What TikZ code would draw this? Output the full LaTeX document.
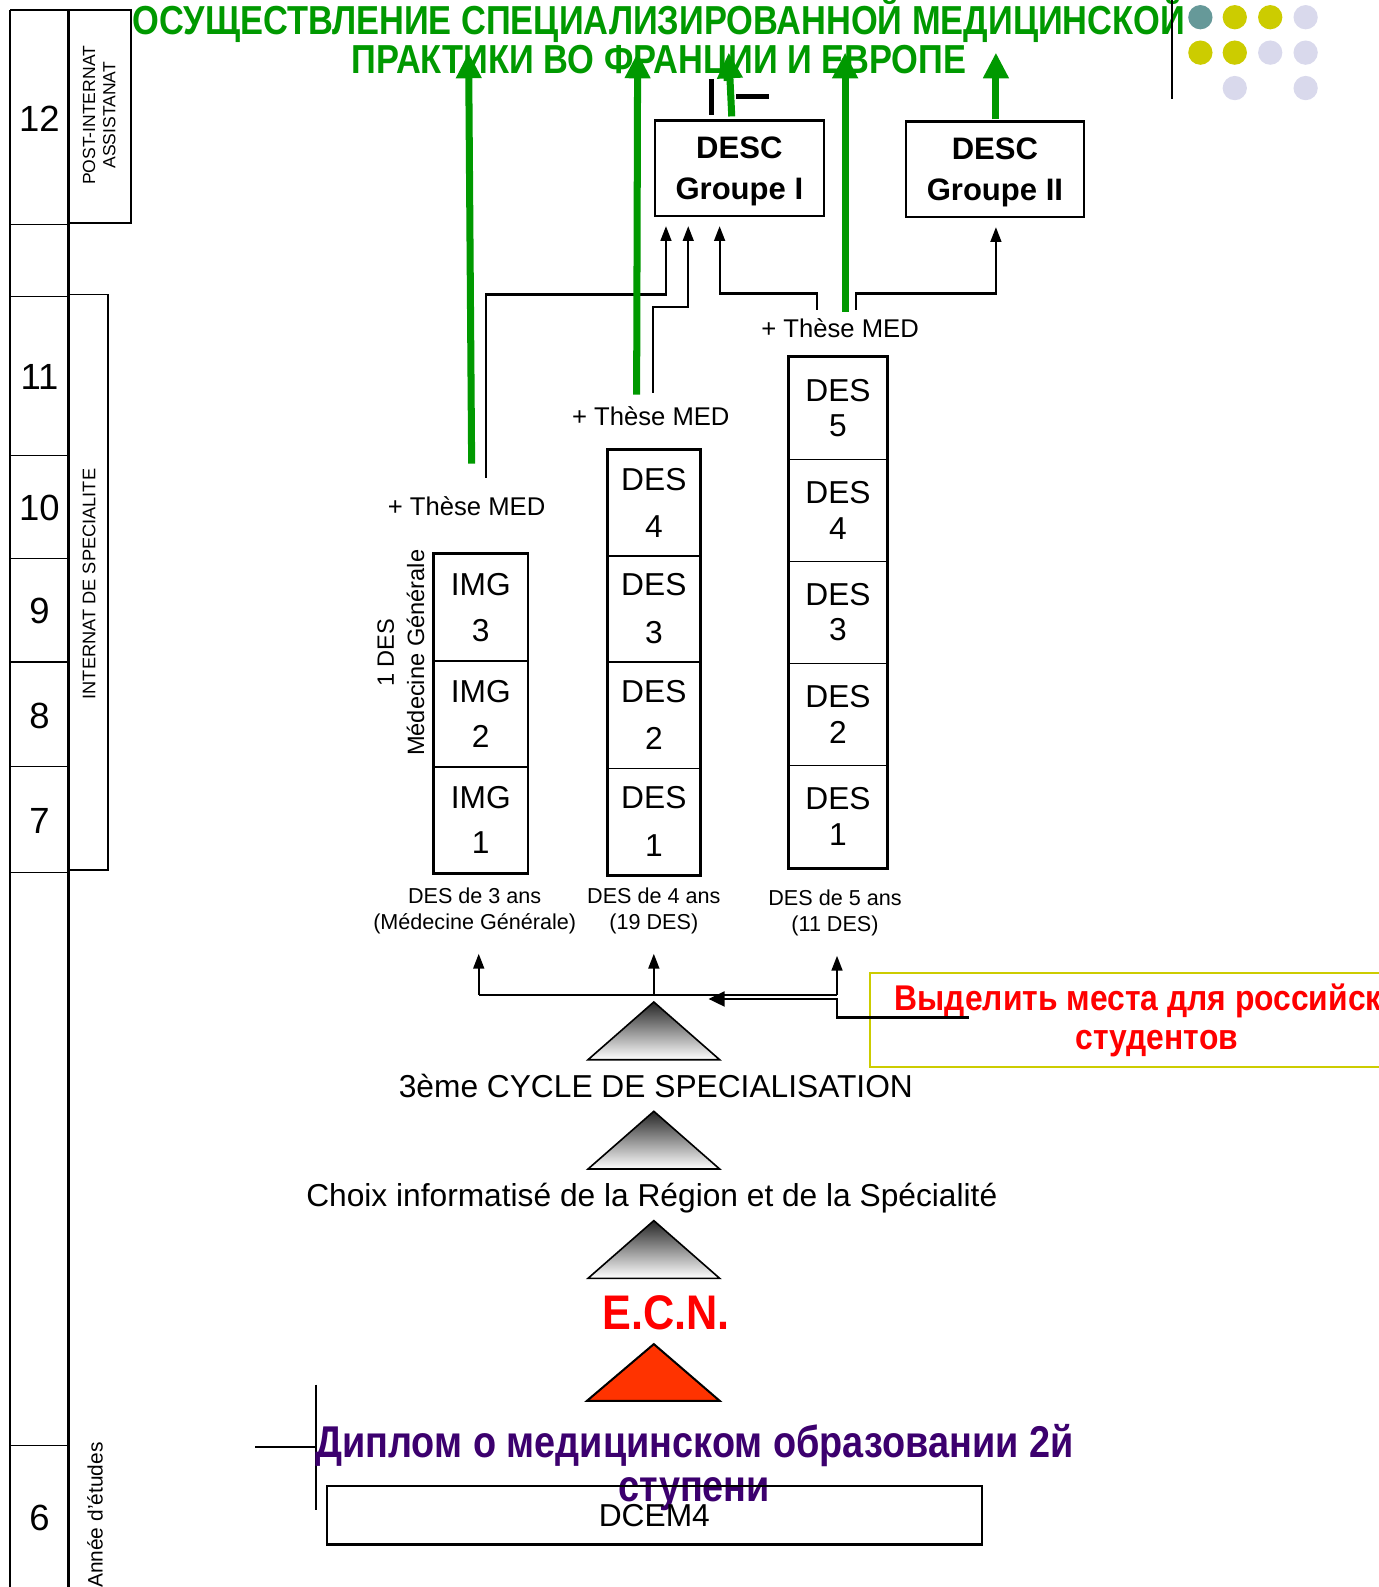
\documentclass[tikz,border=0pt]{standalone}
\usepackage{fontspec}
\setmainfont{Liberation Sans}
\newfontfamily\schmal[FakeStretch=0.85]{Liberation Sans}
\newfontfamily\halbschmal[FakeStretch=0.89]{Liberation Sans}
\usetikzlibrary{arrows.meta}

\definecolor{titelgruen}{RGB}{0,153,0}
\definecolor{ecnrot}{RGB}{255,0,0}
\definecolor{dreieckrot}{RGB}{255,51,0}
\definecolor{diplomlila}{RGB}{60,0,110}
\definecolor{rahmengelb}{RGB}{204,204,0}
\definecolor{punktteal}{RGB}{102,153,153}
\definecolor{punktgelb}{RGB}{204,204,0}
\definecolor{punktlila}{RGB}{217,217,236}

\tikzset{
	jahr/.style={font=\fontsize{27}{30}\selectfont},
	senkrecht/.style={rotate=90, align=center, font=\fontsize{13}{15}\selectfont},
	zelle/.style={draw, line width=1pt, align=center, inner sep=0pt},
	rahmen/.style={line width=2.2pt},
	these/.style={font=\fontsize{19}{22}\selectfont},
	dauer/.style={align=center, font=\fontsize{16}{19.5}\selectfont},
	descbox/.style={draw, line width=1.6pt, align=center, minimum height=70.5pt, text depth=0pt, font=\bfseries\fontsize{23}{30}\selectfont},
	stufe/.style={font=\fontsize{23.5}{28}\selectfont},
	pfeil/.style={line width=1.6pt, -{Triangle[width=8pt,length=11pt]}},
	gruenpfeil/.style={titelgruen, line width=5.2pt, -{Triangle[width=18pt,length=19pt]}},
	hinweispfeil/.style={line width=2pt, -{Triangle[width=11pt,length=12pt]}}
}

\begin{document}
\begin{tikzpicture}[x=0.75pt, y=-0.75pt]
	\useasboundingbox (0,0) rectangle (1362,1568);
	% Jahresspalte
	\draw[line width=1.5pt] (10,10) -- (10,1568);
	\draw[line width=2.2pt] (68,10) -- (68,1568);
	\draw[line width=2pt] (10,10) -- (68,10);
	\foreach \y in {222,293,450,552,654,757,862,1428}
		\draw[line width=1pt] (10,\y) -- (68,\y);
	\foreach \n/\y in {12/117,11/372,10/502,9/604,8/707,7/811,6/1500}
		\node[jahr] (jahr\n) at (39,\y) {\n};
	\draw[line width=1.4pt] (68,10) rectangle (129,220);
	\node[senkrecht] (post) at (98,114) {POST-INTERNAT\\ASSISTANAT};
	\draw[line width=1.4pt] (68,291) rectangle (107,860);
	\node[senkrecht, font=\fontsize{13.5}{15}\selectfont] (internat) at (88,577) {INTERNAT DE SPECIALITE};
	\node[senkrecht, font=\fontsize{15.5}{18}\selectfont] (annee) at (94,1497) {Année d'études};
	% Titel
	\node[text=titelgruen, font=\schmal\bfseries\fontsize{30}{36}\selectfont] (titel1) at (651,20) {ОСУЩЕСТВЛЕНИЕ СПЕЦИАЛИЗИРОВАННОЙ МЕДИЦИНСКОЙ};
	\node[text=titelgruen, font=\schmal\bfseries\fontsize{30}{36}\selectfont] (titel2) at (651,63) {ПРАКТИКИ ВО ФРАНЦИИ И ЕВРОПЕ};
	\draw[line width=1pt] (1158,0) -- (1158,98);
	\foreach \x/\y/\c in {1186/17/punktteal,1220/17/punktgelb,1255/17/punktgelb,1290/17/punktlila,
		1186/52/punktgelb,1220/52/punktgelb,1255/52/punktlila,1290/52/punktlila,
		1220/87/punktlila,1290/87/punktlila}
		\fill[\c] (\x,\y) circle (9pt);
	% DESC
	\node[descbox, minimum width=125.25pt] (desc1) at (730.5,166) {DESC\\Groupe I};
	\node[descbox, minimum width=132pt] (desc2) at (983,167) {DESC\\Groupe II};
	\draw[line width=3.8pt] (703,78) -- (703,114);
	\draw[line width=3.8pt] (727,95) -- (760,95);
	% Spalten
	\foreach \i/\y in {1/810,2/705.5,3/600.5}
		\node[zelle, minimum width=69pt, minimum height=78.75pt, font=\fontsize{23.5}{33.75}\selectfont] (img\i) at (475,\y) {IMG\\\i};
	\foreach \i/\y in {1/811.5,2/706.5,3/601.5,4/497}
		\node[zelle, minimum width=67.5pt, minimum height=78.75pt, font=\fontsize{23.5}{35.25}\selectfont] (desa\i) at (646,\y) {DES\\\i};
	\foreach \i/\y in {1/806.6,2/705.8,3/605,4/504.2,5/403.4}
		\node[zelle, minimum width=72pt, minimum height=75.6pt, font=\fontsize{23.5}{26.25}\selectfont] (desb\i) at (828,\y) {DES\\\i};
	\draw[rahmen] (img1.south west) rectangle (img3.north east);
	\draw[rahmen] (desa1.south west) rectangle (desa4.north east);
	\draw[rahmen] (desb1.south west) rectangle (desb5.north east);
	\node[senkrecht, font=\fontsize{17.5}{22.5}\selectfont] (mg) at (396,645) {1 DES\\Médecine Générale};
	% Labels
	\node[these] (these1) at (461,500) {+ Thèse MED};
	\node[these] (these2) at (643,411) {+ Thèse MED};
	\node[these] (these3) at (830,324) {+ Thèse MED};
	\node[dauer] (dauer3) at (469,900) {DES de 3 ans\\(Médecine Générale)};
	\node[dauer] (dauer4) at (646,900) {DES de 4 ans\\(19 DES)};
	\node[dauer] (dauer5) at (825,902) {DES de 5 ans\\(11 DES)};
	% Verbindungen oben
	\coordinate (tA) at (480,472);
	\coordinate (kA) at (658,291);
	\coordinate (tB) at (645,388);
	\coordinate (kB) at (680,303);
	\coordinate (tC) at (807,306);
	\coordinate (kC) at (711,290);
	\coordinate (tD) at (846,306);
	\coordinate (kD) at (984,290);
	\draw[pfeil, shorten >=7pt] (tA) |- (kA) -- (kA |- desc1.south);
	\draw[pfeil, shorten >=7pt] (tB) |- (kB) -- (kB |- desc1.south);
	\draw[pfeil, shorten >=7pt] (tC) |- (kC) -- (kC |- desc1.south);
	\draw[pfeil, shorten >=7pt] (tD) |- (kD) -- (kD |- desc2.south);
	% Gruene Pfeile
	\foreach \n/\xu/\yu/\xo in {1/466/458/463,2/629/390/630,3/723/115/720,4/835/308/835,5/984/118/984} {
		\coordinate (gu\n) at (\xu,\yu);
		\coordinate (go\n) at (\xo,52);
		\draw[gruenpfeil] (gu\n) -- (go\n);
	}
	% Verbindungen unten
	\coordinate (v3) at (473,983);
	\coordinate (v4) at (646,983);
	\coordinate (v5) at (827,983);
	\draw[line width=1.6pt] (v3) -- (v5);
	\draw[pfeil, shorten >=11pt] (v3) -- (v3 |- dauer3.south);
	\draw[pfeil, shorten >=11pt] (v4) -- (v4 |- dauer4.south);
	\draw[pfeil, shorten >=11pt] (v5) -- (v5 |- dauer5.south);
	\node[draw=rahmengelb, line width=1.5pt, minimum width=424.5pt, minimum height=69.75pt, align=center, text=ecnrot, font=\halbschmal\bfseries\fontsize{26.5}{29}\selectfont] (hinweis) at (1143,1008) {Выделить места для российских\\студентов};
	\coordinate (hk) at (957,1005);
	\coordinate (knick) at (827,987);
	\coordinate (spitze) at (700,987);
	\draw[hinweispfeil] (hk) -| (knick) -- (spitze);
	% Dreiecke
	\foreach \y in {990,1098,1206}
		\shadedraw[line width=1.2pt, top color=black!85, bottom color=white] (646,\y) -- (711,\y+57) -- (581,\y+57) -- cycle;
	\filldraw[fill=dreieckrot, line width=1.5pt] (646,1328) -- (711,1384) -- (580,1384) -- cycle;
	\node[stufe] (zyklus) at (648,1073) {3ème CYCLE DE SPECIALISATION};
	\node[stufe] (wahl) at (644,1184) {Choix informatisé de la Région et de la Spécialité};
	\node[text=ecnrot, font=\halbschmal\bfseries\fontsize{36}{40}\selectfont] (ecn) at (658,1297) {E.C.N.};
	% Diplom
	\draw[line width=1.6pt] (252,1430) -- (312,1430);
	\draw[line width=1.6pt] (312,1368) -- (312,1492);
	\node[align=center, text=diplomlila, font=\schmal\bfseries\fontsize{33}{32}\selectfont] (diplom) at (686,1450) {Диплом о медицинском образовании 2й\\ступени};
	\node[draw, line width=1.6pt, minimum width=485.25pt, minimum height=43.5pt, font=\fontsize{23.5}{28}\selectfont] (dcem) at (646.5,1497) {DCEM4};
\end{tikzpicture}
\end{document}
